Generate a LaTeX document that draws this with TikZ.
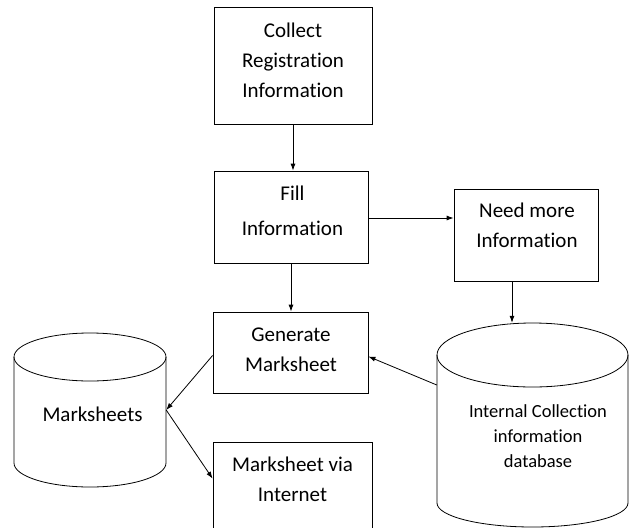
\documentclass[tikz,border=0pt]{standalone}
\usepackage{fontspec}
\setmainfont{Carlito}[Ligatures=NoCommon]
\usetikzlibrary{arrows.meta,calc}
\tikzset{
  stepbox/.style={draw, line width=0.8pt, inner sep=0pt},
  lbl/.style={align=center, inner sep=0pt, font=\fontsize{21}{30}\selectfont},
  arr/.style={line width=0.8pt, -{Latex[length=7pt,width=5pt]}},
  cyl/.style={draw, line width=0.8pt},
}
\begin{document}
\begin{tikzpicture}[x=1pt,y=-1pt]
\useasboundingbox (0,0) rectangle (630,528);
\clip (0,0) rectangle (630,528);
\fill[white] (0,0) rectangle (630,528);

% process boxes
\node[stepbox, minimum width=158pt, minimum height=117pt] (collect) at (293,65.5) {};
\node[stepbox, minimum width=154pt, minimum height=92pt] (fill) at (291,217) {};
\node[stepbox, minimum width=144pt, minimum height=92pt] (need) at (526,235) {};
\node[stepbox, minimum width=155pt, minimum height=81pt] (gen) at (290.5,352.5) {};
\node[stepbox, minimum width=159pt, minimum height=100pt] (web) at (292.5,492) {};

\node[lbl] (collect-t) at (293,60) {Collect\\Registration\\Information};
\node[lbl, font=\fontsize{21}{35}\selectfont] (fill-t) at (292.5,210.5) {Fill\\Information};
\node[lbl] (need-t) at (527,225) {Need more\\Information};
\node[lbl] (gen-t) at (291,350) {Generate\\Marksheet};
\node[lbl] (web-t) at (292.5,479.5) {Marksheet via\\Internet};

% data stores: top ellipse, then the sides joined by the lower front arc
\node[minimum width=152pt, minimum height=154pt, inner sep=0pt] (ms) at (90,410) {};
\draw[cyl] (90,357) ellipse[x radius=76pt, y radius=24pt];
\draw[cyl] (14,357) -- (14,463) arc[start angle=180, end angle=360, x radius=76pt, y radius=24pt] -- (166,357);
\node[lbl] (ms-t) at (92.5,414.5) {Marksheets};

\node[minimum width=191pt, minimum height=204pt, inner sep=0pt] (db) at (532.5,425) {};
\draw[cyl] (532.5,355) ellipse[x radius=95.5pt, y radius=32pt];
\draw[cyl] (437,355) -- (437,503) arc[start angle=180, end angle=360, x radius=95.5pt, y radius=24pt] -- (628,355);
\node[lbl, font=\fontsize{18.5}{25}\selectfont] (db-t) at (538,436.5) {Internal Collection\\information\\database};

% connectors
\draw[arr] (collect.south) -- (collect.south |- fill.north);
\draw[arr] ([yshift=-1pt]fill.east) -- ([yshift=-1pt]fill.east -| need.west);
\draw[arr] (fill.south) -- (fill.south |- gen.north);
\draw[arr] ([xshift=-14pt]need.south) -- ([xshift=-14pt]need.south |- db.north);
\draw[arr] ([yshift=40pt]db.west) -- ([yshift=-4pt]gen.east);
\draw[arr] ([yshift=-3pt]gen.west) -- (ms.east);
\draw[arr] (ms.east) -- ($(web.north west)+(0,37)$);
\end{tikzpicture}
\end{document}
